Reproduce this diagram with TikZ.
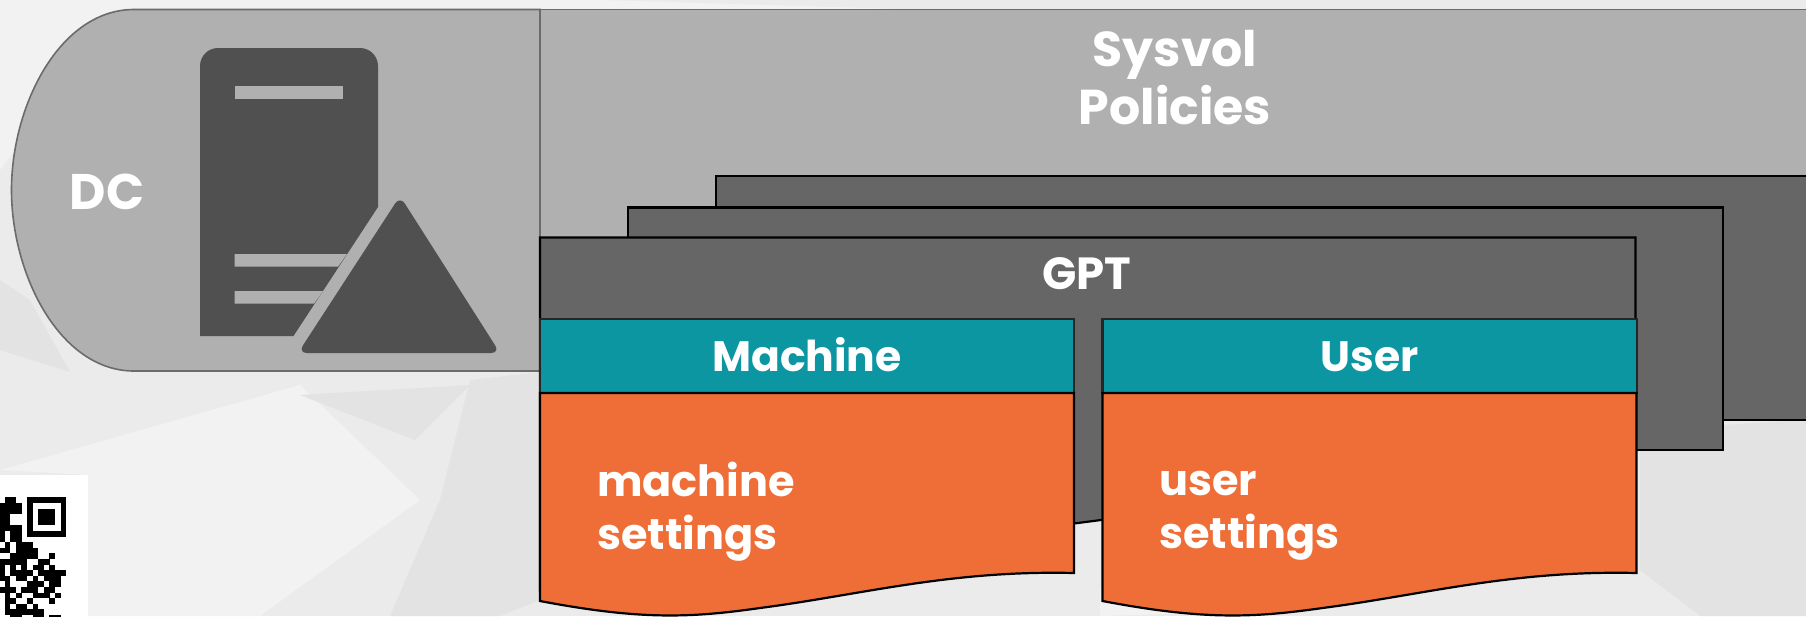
\documentclass[tikz,border=0pt]{standalone}
\usepackage{fontspec}
\setmainfont{Poppins}
\usetikzlibrary{positioning}
\definecolor{icebase}{HTML}{EBEBEB}
\definecolor{icelight}{HTML}{F2F2F2}
\definecolor{icedark}{HTML}{E3E3E3}
\definecolor{panelgrey}{HTML}{B0B0B0}
\definecolor{paneledge}{HTML}{6B6B6B}
\definecolor{gptgrey}{HTML}{666666}
\definecolor{icongrey}{HTML}{505050}
\definecolor{headteal}{HTML}{0C96A2}
\definecolor{settingsorange}{HTML}{EF6E37}
\tikzset{
  sheet/.style={fill=gptgrey,draw=black,line width=2.2pt},
  headbox/.style={fill=headteal,draw=black!85,line width=2.2pt,text=white,font=\fontsize{42.5}{50}\selectfont\bfseries,
    minimum height=74pt,inner sep=0pt,outer sep=0pt,text height=31pt,text depth=0pt,anchor=north west},
  settingsbox/.style={fill=settingsorange,draw=black,line width=2.2pt},
  whitetext/.style={text=white,font=\fontsize{43}{53}\selectfont\bfseries,align=left,inner sep=0pt},
  bigtext/.style={text=white,font=\fontsize{49}{58}\selectfont\bfseries,align=center,inner sep=0pt}
}
\begin{document}
\begin{tikzpicture}[x=1pt,y=-1pt]
    \useasboundingbox (0,0) rectangle (1806,616);
    % ice behind everything
    \fill[icebase] (0,0) rectangle (1806,616);
    \fill[icelight] (0,0) -- (600,0) -- (900,9) -- (120,12) -- (0,170) -- cycle;
    \fill[icelight] (0,470) -- (300,385) -- (420,500) -- (260,616) -- (88,616) -- (88,475) -- cycle;
    \fill[icedark] (0,280) -- (30,300) -- (70,372) -- (0,350) -- cycle;
    \fill[icedark] (300,395) -- (470,385) -- (415,440) -- cycle;
    \fill[icedark] (470,380) -- (540,372) -- (540,600) -- (500,616) -- (390,616) -- (440,500) -- cycle;
    \fill[icedark] (1640,430) -- (1806,420) -- (1806,616) -- (1700,616) -- (1640,570) -- cycle;
    \fill[icelight] (1100,590) -- (1300,610) -- (1100,616) -- cycle;
    % code square
    \fill[white] (0,475) rectangle (88,616);
    \begin{scope}[shift={(27,497.3)},x=5.6pt,y=-5.6pt]
        \fill[black] (0,0) rectangle (7,7);
        \fill[white] (1,1) rectangle (6,6);
        \fill[black] (2,2) rectangle (5,5);
        \foreach \r/\cols in {0/{-4,-3},1/{-5,-4,-3,-2},2/{-5,-4,-3,-2},3/{-5,-4},4/{-5,-4},
            5/{-5,-4,-3,-2},6/{-5,-3,-2},7/{-5,-3,-2},8/{-4,-2,-1,0},9/{-5,-4,-2,-1,0,1},
            10/{-3,-2,-1,0,1,4},11/{-5,-4,-3,-2,-1,2,3},12/{-5,-3,-1,1,2,4},13/{-5,-3,-2,-1,0,2,3,4,5,6},
            14/{-5,-4,-2,-1,1,3,4,5},15/{-4,0,1,2,4,5},16/{-5,-4,-3,-1,0,1,3,4},17/{-4,-2,1,2,3,5},
            18/{-4,-3,0,4},19/{-4,-2,-1,1},20/{-4,-3,-2,-1,0,1,2},21/{-3,-2,1,2,4,5}}{
            \foreach \c in \cols {
                \fill[black] (\c,\r) rectangle ++(1.03,1.03);
            }
        }
    \end{scope}
    % grey bands
    \draw[fill=panelgrey,draw=paneledge,line width=1.6pt] (540,9.5) -- (134,9.5)
        .. controls (60,9.5) and (11.5,105) .. (11.5,190)
        .. controls (11.5,275) and (60,371) .. (134,371) -- (540,371) -- cycle;
    \draw[fill=panelgrey,draw=paneledge,line width=1.6pt] (540,9.5) rectangle (1830,371);
    \node[whitetext,font=\fontsize{50}{53}\selectfont\bfseries] (dclabel) at (107,192) {DC};
    % server and triangle
    \draw[fill=icongrey,draw=none,rounded corners=18pt] (200,336) -- (200,48) -- (378,48)
        -- (378,120) [sharp corners] -- (378,207) -- (293.5,336) -- cycle;
    \fill[panelgrey] (234.6,86) rectangle (343,98.7);
    \fill[panelgrey] (234.6,254) -- (347,254) -- (338,266.7) -- (234.6,266.7) -- cycle;
    \fill[panelgrey] (234.6,291) -- (323,291) -- (314,303.7) -- (234.6,303.7) -- cycle;
    \fill[icongrey,rounded corners=9pt] (400,196) -- (500,353) -- (298,353) -- cycle;
    \node[bigtext] (sysvol) at (1175,78) {Sysvol\\Policies};
    % three sheets
    \draw[sheet] (716,176) rectangle (1830,420);
    \draw[sheet] (628,207.5) rectangle (1723,450);
    \draw[sheet] (540,237.5) -- (1635.5,237.5) -- (1635.5,519) -- (1101,520) -- (1074,523.5) -- (540,590) -- cycle;
    \node[bigtext,font=\fontsize{45}{50}\selectfont\bfseries] (gptlabel) at (1087,274) {GPT};
    % machine and user columns
    \node[headbox,minimum width=534pt] (machinehead) at (540,319) {Machine};
    \node[headbox,minimum width=534.5pt,right=28.5pt of machinehead] (userhead) {User};
    \foreach \sx in {0,562.5}{
        \draw[settingsbox,shift={(\sx,0)}] (540,393) -- (1074,393) -- (1074,573)
            .. controls (950,570) and (860,595) .. (760,608)
            .. controls (690,618) and (640,620) .. (540,601) -- cycle;
    }
    \node[whitetext,anchor=north west] (machinetext) at (597,462) {machine\\settings};
    \node[whitetext,anchor=north west] (usertext) at (1159,471) {user\\settings};
\end{tikzpicture}
\end{document}
